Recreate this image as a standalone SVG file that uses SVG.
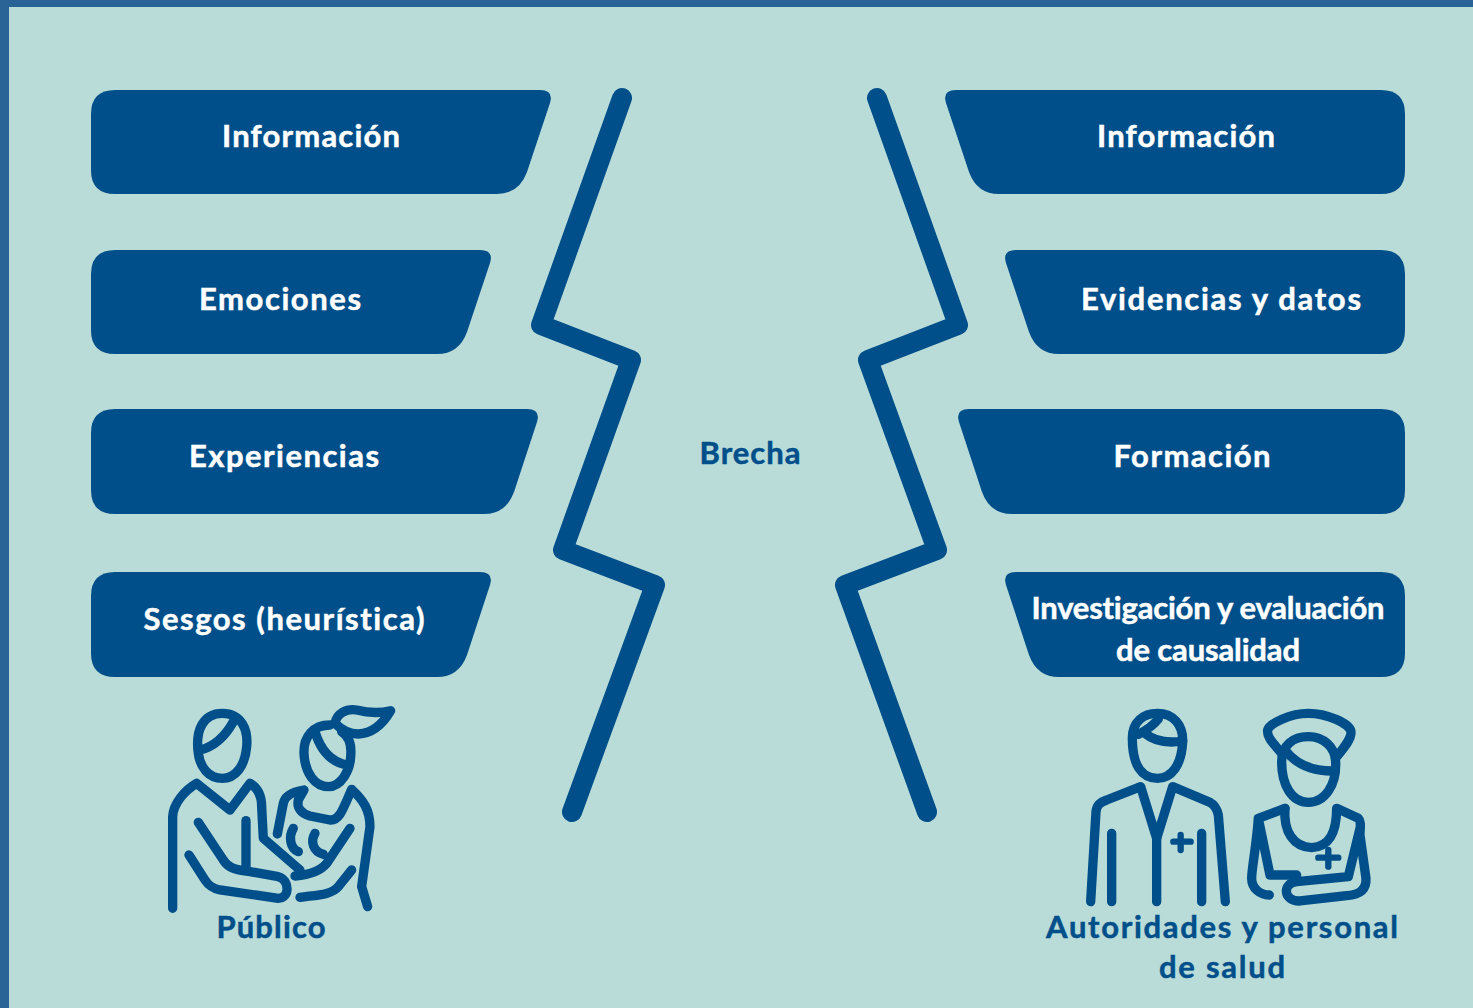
<svg xmlns="http://www.w3.org/2000/svg" width="1473" height="1008" viewBox="0 0 1473 1008">
<style>
.bx{fill:#004f8a}
.t{font-family:"Lato","Open Sans",sans-serif;font-weight:700;font-size:31px;text-anchor:middle;fill:#fff;stroke:#fff;stroke-width:.5px;font-variant-ligatures:none}
.b{fill:#004f8a;stroke:#004f8a}
.z{fill:none;stroke:#004f8a;stroke-width:20;stroke-linecap:round;stroke-linejoin:round}
.i{fill:none;stroke:#004f8a;stroke-width:28;stroke-linecap:round;stroke-linejoin:round}
.c{stroke-width:19}
</style>
<rect width="1473" height="1008" fill="#2a6496"/>
<rect x="9" y="7" width="1464" height="1001" fill="#b9dcd8"/>
<g id="connectors">
<path class="z" d="M622 98L541 325L631 360L563 550L655 585L572 812"/>
<path class="z" d="M877 98L958 325L868 360L937 550L845 585L927 812"/>
</g>
<g id="l1"><path class="bx" d="M115 90H540Q554 90 550 103L527 172Q519 194 497 194H115Q91 194 91 170V114Q91 90 115 90Z"/><text class="t" x="311" y="146.500" textLength="178">Información</text></g>
<g id="l2"><path class="bx" d="M115 250H480Q494 250 490 263L467 332Q459 354 437 354H115Q91 354 91 330V274Q91 250 115 250Z"/><text class="t" x="280" y="309.500" textLength="162">Emociones</text></g>
<g id="l3"><path class="bx" d="M115 409H527Q541 409 537 422L514 492Q506 514 484 514H115Q91 514 91 490V433Q91 409 115 409Z"/><text class="t" x="284" y="466.500" textLength="190">Experiencias</text></g>
<g id="l4"><path class="bx" d="M115 572H480Q494 572 490 585L467 655Q459 677 437 677H115Q91 677 91 653V596Q91 572 115 572Z"/><text class="t" x="284" y="629.500" textLength="281">Sesgos (heurística)</text></g>
<g id="r1"><path class="bx" d="M1381 90H956Q942 90 946 103L969 172Q977 194 999 194H1381Q1405 194 1405 170V114Q1405 90 1381 90Z"/><text class="t" x="1186" y="146.500" textLength="178">Información</text></g>
<g id="r2"><path class="bx" d="M1381 250H1016Q1002 250 1006 263L1029 332Q1037 354 1059 354H1381Q1405 354 1405 330V274Q1405 250 1381 250Z"/><text class="t" x="1221" y="309.500" textLength="280">Evidencias y datos</text></g>
<g id="r3"><path class="bx" d="M1381 409H969Q955 409 959 422L982 492Q990 514 1012 514H1381Q1405 514 1405 490V433Q1405 409 1381 409Z"/><text class="t" x="1192" y="466.500" textLength="157">Formación</text></g>
<g id="r4"><path class="bx" d="M1381 572H1016Q1002 572 1006 585L1029 655Q1037 677 1059 677H1381Q1405 677 1405 653V596Q1405 572 1381 572Z"/><text class="t" x="1208" y="619" textLength="353">Investigación y evaluación</text><text class="t" x="1208" y="661" textLength="184">de causalidad</text></g>
<g id="brecha"><text class="t b" x="750" y="463.500" textLength="101">Brecha</text></g>
<g id="publico">
<g transform="translate(150 690) scale(.3333)">
<path class="i" d="M145 190C135 120 160 70 217 70C275 70 295 120 290 170C285 230 255 265 217 265C175 265 150 230 145 190Z"/>
<path class="i" d="M150 180C190 170 225 140 250 95"/>
<path class="i" d="M68 655V380C70 340 105 300 140 280L240 360L300 280C325 295 335 320 335 350L340 445L450 540"/>
<path class="i" d="M145 397L220 510C235 535 260 540 300 545L385 560C420 570 420 625 385 625L210 600C185 595 175 585 165 570L117 495"/>
<path class="i" d="M288 392V535"/>
<path class="i" d="M540 105C490 105 460 140 462 190C465 250 495 290 535 290C575 290 600 240 602 200C605 170 600 140 575 125"/>
<path class="i" d="M495 125C510 175 540 215 590 225"/>
<path class="i" d="M555 100C560 70 590 55 620 60C660 70 690 70 722 62C700 100 670 130 625 132C600 132 580 125 555 100Z"/>
<path class="i" d="M382 432L400 340C405 315 430 305 462 300L445 330C440 350 450 370 480 378L540 390C565 392 575 370 605 298C640 330 660 360 660 410L635 590L653 650"/>
<path class="i" d="M600 415L530 520C510 545 470 555 435 558"/>
<path class="i" d="M605 540L565 590C545 615 500 615 450 622"/>
<path class="i" d="M430 415C415 440 420 475 445 485"/>
<path class="i" d="M495 430C480 455 490 485 520 493"/>
</g>
<text class="t b" x="271" y="937.500" textLength="109">Público</text>
</g>
<g id="autoridades">
<g transform="translate(1070 695) scale(.3333)">
<path class="i" d="M187 130C187 80 220 55 262 55C310 55 340 90 338 140C335 210 305 250 262 250C215 250 187 210 187 130Z"/>
<path class="i" d="M205 118C240 100 255 85 265 72M225 115C255 140 295 145 338 138"/>
<path class="i" d="M62 620L78 350C80 330 90 322 110 315L212 275L260 430L308 275L420 322C435 330 442 345 445 360L466 620"/>
<path class="i" d="M260 430V620M125 415V620M395 415V620"/>
<path class="i c" d="M310 440H362M332 420V465"/>
<path class="i" d="M635 175C605 140 590 125 593 105C600 85 660 55 715 55C770 55 840 85 843 110C845 130 825 155 800 185"/>
<path class="i" d="M635 200C635 150 670 125 715 125C760 125 795 155 797 200C800 270 765 322 715 322C665 322 635 270 635 200Z"/>
<path class="i" d="M645 165C680 210 730 230 795 228"/>
<path class="i" d="M645 340C640 410 670 455 725 458C780 455 800 410 800 340L865 370C875 380 870 400 870 420L888 550C890 590 860 600 830 602L690 618C640 620 635 565 680 560L835 545L870 400"/>
<path class="i" d="M645 340L565 370L600 540L680 540M565 370C560 450 545 520 545 550C545 580 570 600 598 600"/>
<path class="i c" d="M745 488H805M775 465V515"/>
</g>
<text class="t b" x="1222" y="937.500" textLength="352">Autoridades y personal</text>
<text class="t b" x="1222" y="977.500" textLength="126">de salud</text>
</g>
</svg>
